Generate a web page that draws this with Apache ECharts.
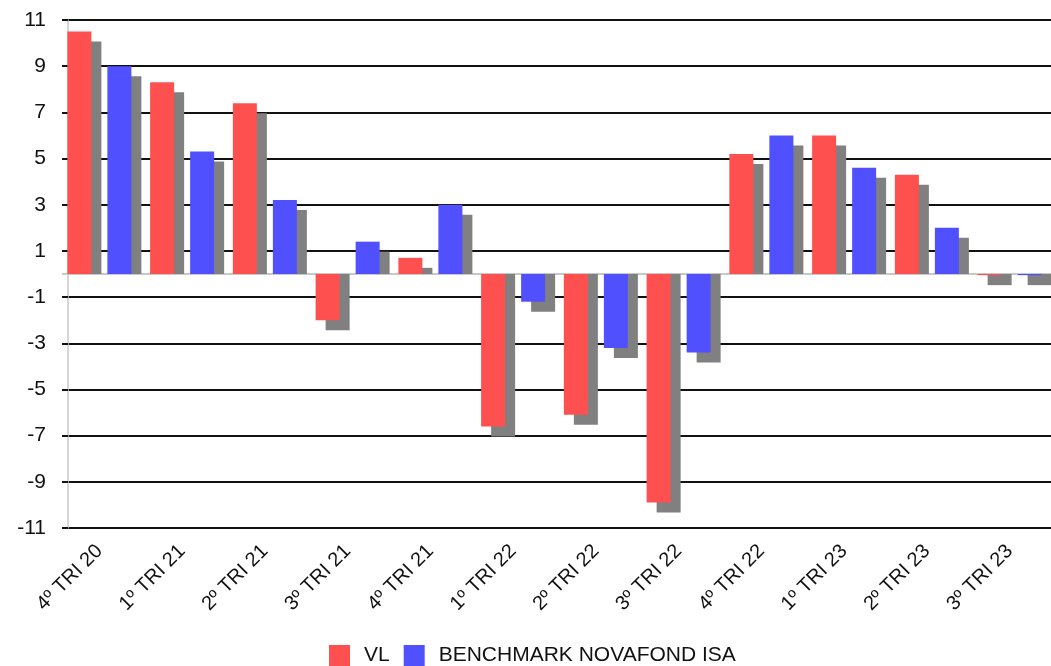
<!DOCTYPE html>
<html>
<head>
<meta charset="utf-8">
<script src="https://cdn.jsdelivr.net/npm/echarts@6/dist/echarts.min.js"></script>
<style>
  html, body { margin: 0; padding: 0; background: #fff; }
  #chartDiv { width: 1051px; height: 666px; }
</style>
</head>
<body>
<div id="chartDiv"></div>
<script>
// quarters on the x axis
let categories = ['4º TRI 20', '1º TRI 21', '2º TRI 21', '3º TRI 21', '4º TRI 21', '1º TRI 22',
                  '2º TRI 22', '3º TRI 22', '4º TRI 22', '1º TRI 23', '2º TRI 23', '3º TRI 23'];

// series values
let vlValues = [10.5, 8.3, 7.4, -2.0, 0.7, -6.6, -6.1, -9.9, 5.2, 6.0, 4.3, -0.05];
let benchValues = [9.0, 5.3, 3.2, 1.4, 3.0, -1.2, -3.2, -3.4, 6.0, 4.6, 2.0, -0.05];

// y tick labels
let yMin = -11;
let yMax = 11;
let yStep = 2;

let seriesNames = ['VL', 'BENCHMARK NOVAFOND ISA'];

let chartDom = document.getElementById('chartDiv');
let myChart = echarts.init(chartDom);

// gray "3d" shadow drawn behind each bar, shifted right and down
function shadowRenderer(barOffset) {
    return function (params, api) {
        let idx = api.value(0);
        let val = api.value(1);
        let top = api.coord([idx, val]);
        let base = api.coord([idx, 0]);
        let x = top[0] + barOffset + 10;
        let y1, y2;
        if (val >= 0) {
            y1 = top[1] + 10;
            y2 = base[1];
        } else {
            y1 = base[1];
            y2 = top[1] + 10;
        }
        if (y2 < y1) { let t = y1; y1 = y2; y2 = t; }
        return {
            type: 'rect',
            shape: { x: x, y: y1, width: 24, height: y2 - y1 },
            style: { fill: '#808080' }
        };
    };
}

let option = {
    backgroundColor: '#fff',
    animation: false,
    textStyle: { fontFamily: 'Liberation Sans, Arial, sans-serif' },
    grid: { left: 58, right: -15, top: 20, bottom: 138 },
    legend: {
        data: seriesNames,
        top: 640,
        left: 324,
        icon: 'rect',
        itemWidth: 21,
        itemHeight: 21,
        itemGap: 14,
        textStyle: { fontSize: 21, color: '#111', padding: [0, 0, 0, 9] }
    },
    xAxis: {
        type: 'category',
        data: categories,
        axisLine: { lineStyle: { color: '#c8c8c8', width: 2 } },
        axisTick: { alignWithLabel: true, length: 5, lineStyle: { color: '#c8c8c8', width: 1.5 } },
        axisLabel: { rotate: 45, margin: 20, fontSize: 20, color: '#111', interval: 0 },
        splitLine: { show: false }
    },
    yAxis: {
        type: 'value',
        min: yMin,
        max: yMax,
        interval: yStep,
        offset: -10,
        axisLine: { show: true, lineStyle: { color: '#c8c8c8', width: 1.5 } },
        axisTick: { show: true, length: 6, lineStyle: { color: '#111', width: 2 } },
        axisLabel: { fontSize: 21, color: '#111', margin: 22 },
        splitLine: { show: true, lineStyle: { color: '#111', width: 2 } }
    },
    graphic: [
        { type: 'rect', left: 54, top: 10, shape: { width: 8, height: 525 }, style: { fill: '#fff' }, z: 100 }
    ],
    series: [
        {
            name: 'shadowVL',
            type: 'custom',
            renderItem: shadowRenderer(-32),
            data: vlValues.map((v, i) => [i, v]),
            encode: { x: 0, y: 1 },
            z: 1,
            silent: true
        },
        {
            name: 'shadowBench',
            type: 'custom',
            renderItem: shadowRenderer(8),
            data: benchValues.map((v, i) => [i, v]),
            encode: { x: 0, y: 1 },
            z: 1,
            silent: true
        },
        {
            name: seriesNames[0],
            type: 'bar',
            data: vlValues,
            barWidth: 24,
            barGap: '66.7%',
            itemStyle: { color: '#ff5050' },
            z: 3
        },
        {
            name: seriesNames[1],
            type: 'bar',
            data: benchValues,
            barWidth: 24,
            barGap: '66.7%',
            itemStyle: { color: '#5050ff' },
            z: 3
        }
    ]
};

option && myChart.setOption(option);
</script>
</body>
</html>
